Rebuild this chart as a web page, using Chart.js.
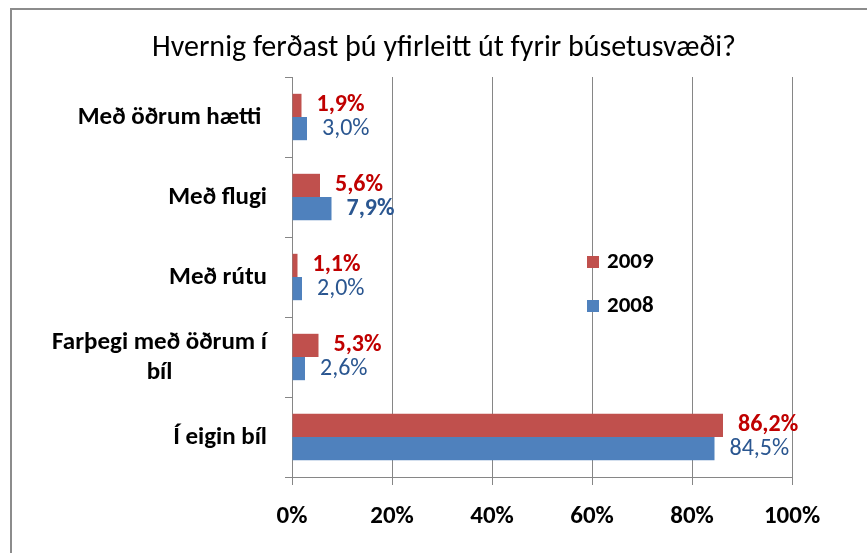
<!DOCTYPE html>
<html lang="is">
<head>
    <meta charset="UTF-8">
    <title>Hvernig ferðast þú yfirleitt út fyrir búsetusvæði?</title>
    <style>
        body { margin: 0; padding: 0; background: #fff; }
        #wrap { width: 867px; height: 553px; position: relative; }
    </style>
    <script src="https://cdn.jsdelivr.net/npm/chart.js"></script>
</head>
<body>
    <div id="wrap"><canvas id="chart" width="867" height="553"></canvas></div>
    <script>
        // gögn
        const categories = ['Með öðrum hætti ', 'Með flugi', 'Með rútu', ['Farþegi með öðrum í', 'bíl'], 'Í eigin bíl'];
        const values2009 = [1.9, 5.6, 1.1, 5.3, 86.2];
        const values2008 = [3.0, 7.9, 2.0, 2.6, 84.5];
        const xTicks = [0, 20, 40, 60, 80, 100];

        const FONT = 'Carlito, Lato, sans-serif';
        const GRID = '#868686';
        // feitletraðir merkimiðar fyrir 2008
        const bold2008 = [false, true, false, false, false];

        const fmt = v => v.toFixed(1).replace('.', ',') + '%';

        // rammi efst og vinstra megin
        const framePlugin = {
            id: 'frame',
            beforeDraw(chart) {
                const ctx = chart.ctx;
                ctx.save();
                ctx.fillStyle = '#fff';
                ctx.fillRect(0, 0, chart.width, chart.height);
                ctx.strokeStyle = '#8c8c8c';
                ctx.lineWidth = 2;
                ctx.beginPath();
                ctx.moveTo(11, chart.height);
                ctx.lineTo(11, 9);
                ctx.lineTo(chart.width, 9);
                ctx.stroke();
                ctx.restore();
            }
        };

        // flokkaheiti á y-ás, miðjuð innbyrðis en hægrijöfnuð við ásinn
        const yLabelPlugin = {
            id: 'yLabels',
            afterDraw(chart) {
                const ctx = chart.ctx;
                const y = chart.scales.y;
                const right = chart.chartArea.left - 25;
                const lh = 30;
                ctx.save();
                ctx.font = 'bold 25px ' + FONT;
                ctx.fillStyle = '#000';
                ctx.textAlign = 'center';
                ctx.textBaseline = 'middle';
                categories.forEach((c, i) => {
                    const lines = Array.isArray(c) ? c : [c];
                    const w = Math.max(...lines.map(l => ctx.measureText(l).width));
                    const cx = right - w / 2;
                    const cy = y.getPixelForValue(i);
                    lines.forEach((l, j) => {
                        ctx.fillText(l, cx, cy + 1 + (j - (lines.length - 1) / 2) * lh);
                    });
                });
                ctx.restore();
            }
        };

        // gildi við enda súlna
        const valuePlugin = {
            id: 'values',
            afterDatasetsDraw(chart) {
                const ctx = chart.ctx;
                ctx.save();
                ctx.textAlign = 'left';
                ctx.textBaseline = 'middle';
                chart.data.datasets.forEach((ds, di) => {
                    chart.getDatasetMeta(di).data.forEach((bar, i) => {
                        const bold = di === 0 || bold2008[i];
                        ctx.font = (bold ? 'bold ' : '') + '24px ' + FONT;
                        ctx.fillStyle = di === 0 ? '#C00000' : '#2A5690';
                        ctx.fillText(fmt(ds.data[i]), bar.x + 15, bar.y);
                    });
                });
                ctx.restore();
            }
        };

        // skýringar inni í teiknisvæði
        const legendPlugin = {
            id: 'customLegend',
            afterDraw(chart) {
                const ctx = chart.ctx;
                const a = chart.chartArea;
                const x0 = a.left + 295;
                const ys = [a.top + 185, a.top + 229];
                ctx.save();
                ctx.font = 'bold 23px ' + FONT;
                ctx.textBaseline = 'middle';
                ctx.textAlign = 'left';
                chart.data.datasets.forEach((ds, i) => {
                    ctx.fillStyle = ds.backgroundColor;
                    ctx.fillRect(x0, ys[i] - 6, 12, 12);
                    ctx.fillStyle = '#000';
                    ctx.fillText(ds.label, x0 + 20, ys[i]);
                });
                ctx.restore();
            }
        };

        new Chart(document.getElementById('chart'), {
            type: 'bar',
            data: {
                labels: categories,
                datasets: [
                    { label: '2009', data: values2009, backgroundColor: '#C0504D' },
                    { label: '2008', data: values2008, backgroundColor: '#4F81BD' }
                ]
            },
            options: {
                indexAxis: 'y',
                responsive: false,
                animation: false,
                layout: { padding: { left: 96, right: 75, top: 20, bottom: 0 } },
                datasets: { bar: { categoryPercentage: 0.58, barPercentage: 1 } },
                plugins: {
                    legend: { display: false },
                    tooltip: { enabled: false },
                    title: {
                        display: true,
                        text: 'Hvernig ferðast þú yfirleitt út fyrir búsetusvæði?',
                        color: '#000',
                        font: { family: FONT, size: 30, weight: 'normal' },
                        padding: { top: 10, bottom: 11 }
                    }
                },
                scales: {
                    x: {
                        min: 0,
                        max: 100,
                        afterBuildTicks: s => { s.ticks = xTicks.map(v => ({ value: v })); },
                        afterFit: s => { s.height = 76; },
                        grid: { color: GRID, tickLength: 8, tickColor: GRID },
                        border: { color: GRID },
                        ticks: {
                            color: '#000',
                            padding: 17,
                            font: { family: FONT, size: 25, weight: 'bold' },
                            callback: v => v + '%'
                        }
                    },
                    y: {
                        afterFit: s => { s.width = 196; },
                        grid: { drawOnChartArea: false, tickLength: 7, color: GRID },
                        border: { color: GRID },
                        ticks: { display: false }
                    }
                }
            },
            plugins: [framePlugin, yLabelPlugin, valuePlugin, legendPlugin]
        });
    </script>
</body>
</html>
